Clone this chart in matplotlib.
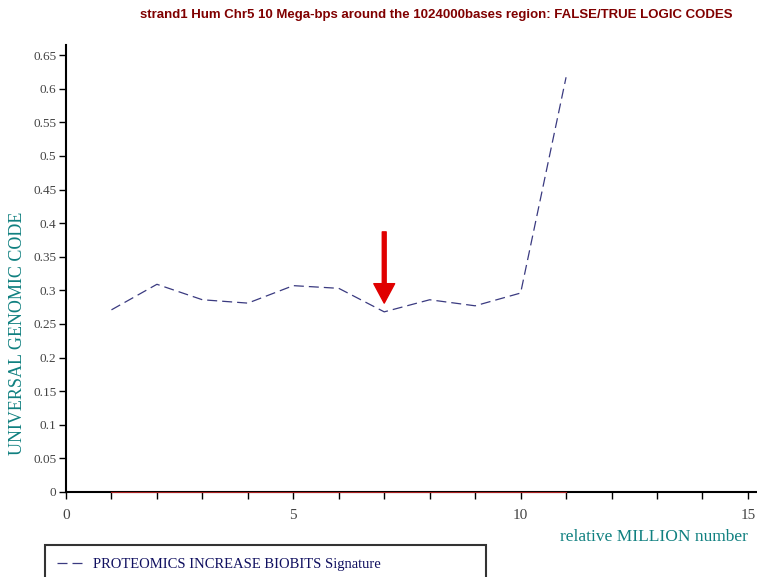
import matplotlib
matplotlib.use("Agg")
import matplotlib.pyplot as plt
from matplotlib.ticker import MultipleLocator

# relative position (million bases) and code value per window
positions = [1, 2, 3, 4, 5, 6, 7, 8, 9, 10, 11]
signature = [0.271, 0.309, 0.286, 0.281, 0.307, 0.303, 0.268, 0.286, 0.277, 0.296, 0.617]
baseline = [0, 0, 0, 0, 0, 0, 0, 0, 0, 0, 0]
marked_x = 7
marked_y = 0.268

title = "strand1 Hum Chr5 10 Mega-bps around the 1024000bases region: FALSE/TRUE LOGIC CODES"
series_name = "PROTEOMICS INCREASE BIOBITS Signature"


def main():
    fig = plt.figure(figsize=(7.57, 5.77), dpi=100)
    ax = fig.add_axes([66 / 757, 1 - 492 / 577, 691 / 757, 447 / 577])

    ax.plot(positions, baseline, color="#aa2020", lw=0.8, zorder=5, clip_on=False)
    ax.plot(positions, signature, color="#3a3a80", lw=0.9,
            dashes=(8, 4), label=series_name)

    # red arrow pointing down at the dip
    ax.annotate("", xy=(marked_x, marked_y + 0.013), xytext=(marked_x, marked_y + 0.119),
                arrowprops=dict(facecolor="#e00000", edgecolor="#e00000",
                                width=2.8, headwidth=15, headlength=14, shrink=0))

    ax.set_xlim(0, 15.2)
    ax.set_ylim(0, 0.665)
    ax.xaxis.set_major_locator(MultipleLocator(5))
    ax.xaxis.set_minor_locator(MultipleLocator(1))
    ax.yaxis.set_major_locator(MultipleLocator(0.05))
    ax.yaxis.set_major_formatter(plt.FuncFormatter(lambda v, p: ("%.2f" % v).rstrip("0").rstrip(".")))

    for s in ["top", "right"]:
        ax.spines[s].set_visible(False)
    for s in ["left", "bottom"]:
        ax.spines[s].set_linewidth(1.5)

    ax.tick_params(axis="x", which="both", direction="out", length=5, width=1,
                   pad=7, labelsize=11, labelcolor="#444444")
    ax.tick_params(axis="y", direction="out", length=5, width=1, pad=2,
                   labelsize=9.5, labelcolor="#444444")
    for lab in ax.get_xticklabels() + ax.get_yticklabels():
        lab.set_fontfamily("Liberation Serif")

    fig.text(436 / 757, 1 - 15 / 577, title, ha="center", va="center",
             color="#800000", fontsize=9.5, fontweight="bold",
             family="Liberation Sans")
    fig.text(18 / 757, 1 - 333 / 577, "UNIVERSAL GENOMIC CODE", rotation=90,
             ha="center", va="center", color="#108080", fontsize=13,
             family="Liberation Serif")
    fig.text(748 / 757, 1 - 537 / 577, "relative MILLION number", ha="right",
             va="center", color="#108080", fontsize=12.5, family="Liberation Serif")

    leg = fig.legend(loc="upper left", bbox_to_anchor=(45 / 757, 0, 441 / 757, 1 - 545 / 577),
                     mode="expand", borderaxespad=0, borderpad=0.85, fancybox=False,
                     handlelength=2.0, handletextpad=0.45,
                     prop={"family": "Liberation Serif", "size": 10.5})
    leg.get_frame().set_edgecolor("black")
    leg.get_frame().set_linewidth(1.5)
    for t in leg.get_texts():
        t.set_color("#101060")

    fig.savefig("out.png", dpi=100)


if __name__ == "__main__":
    main()
